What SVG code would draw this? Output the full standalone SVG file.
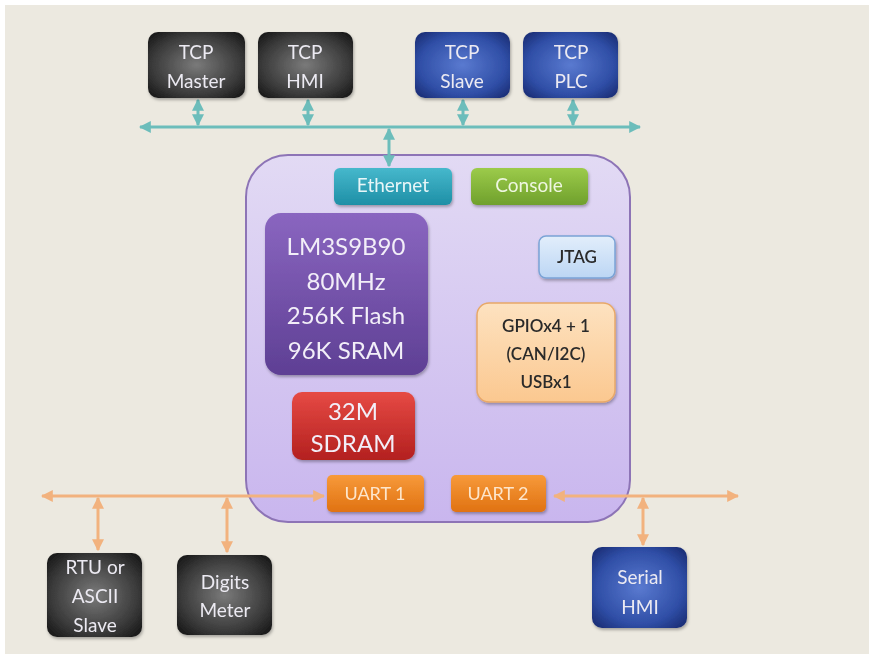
<svg xmlns="http://www.w3.org/2000/svg" width="869" height="654" viewBox="0 0 869 654">
<style>
  text { font-family: Lato, "Open Sans", "Liberation Sans", sans-serif; text-anchor: middle; }
  .wt { fill: #eceaf2; font-size: 19px; }
  .big { fill: #f2eef8; font-size: 24px; }
  .dk { fill: #2a2a2a; font-size: 17px; font-weight: 600; }
  .teal { stroke: #6cbdbb; stroke-width: 3; fill: none; }
  .orng { stroke: #f2b27e; stroke-width: 3; fill: none; }
</style>
<defs>
  <radialGradient id="gDark" cx="50%" cy="50%" r="65%">
    <stop offset="0" stop-color="#7a7a7a"/>
    <stop offset="0.7" stop-color="#3a3a3a"/>
    <stop offset="1" stop-color="#1a1a1a"/>
  </radialGradient>
  <radialGradient id="gBlue" cx="50%" cy="50%" r="65%">
    <stop offset="0" stop-color="#5a7ad0"/>
    <stop offset="0.7" stop-color="#2f4ea6"/>
    <stop offset="1" stop-color="#1c2f78"/>
  </radialGradient>
  <linearGradient id="gBoard" x1="0" y1="0" x2="0" y2="1">
    <stop offset="0" stop-color="#e2daf4"/>
    <stop offset="1" stop-color="#c9b6ee"/>
  </linearGradient>
  <linearGradient id="gPurple" x1="0" y1="0" x2="0" y2="1">
    <stop offset="0" stop-color="#8a66c0"/>
    <stop offset="1" stop-color="#5e3f94"/>
  </linearGradient>
  <linearGradient id="gRed" x1="0" y1="0" x2="0" y2="1">
    <stop offset="0" stop-color="#e64a44"/>
    <stop offset="1" stop-color="#b3201f"/>
  </linearGradient>
  <linearGradient id="gTeal" x1="0" y1="0" x2="0" y2="1">
    <stop offset="0" stop-color="#46b8cc"/>
    <stop offset="1" stop-color="#1e8fa6"/>
  </linearGradient>
  <linearGradient id="gGreen" x1="0" y1="0" x2="0" y2="1">
    <stop offset="0" stop-color="#9ccb4a"/>
    <stop offset="1" stop-color="#6fa02c"/>
  </linearGradient>
  <linearGradient id="gOrange" x1="0" y1="0" x2="0" y2="1">
    <stop offset="0" stop-color="#f79a3a"/>
    <stop offset="1" stop-color="#e07212"/>
  </linearGradient>
  <linearGradient id="gJtag" x1="0" y1="0" x2="0" y2="1">
    <stop offset="0" stop-color="#e2eefb"/>
    <stop offset="1" stop-color="#bcd6f4"/>
  </linearGradient>
  <linearGradient id="gGpio" x1="0" y1="0" x2="0" y2="1">
    <stop offset="0" stop-color="#fde2c0"/>
    <stop offset="1" stop-color="#fbc890"/>
  </linearGradient>
  <filter id="sh" x="-20%" y="-20%" width="140%" height="150%">
    <feDropShadow dx="1" dy="2" stdDeviation="1.5" flood-color="#000" flood-opacity="0.3"/>
  </filter>
  <marker id="aT" viewBox="0 0 10 10" refX="9" refY="5" markerWidth="4" markerHeight="4" orient="auto-start-reverse">
    <path d="M0,0 L10,5 L0,10 Z" fill="#6cbdbb"/>
  </marker>
  <marker id="aO" viewBox="0 0 10 10" refX="9" refY="5" markerWidth="4" markerHeight="4" orient="auto-start-reverse">
    <path d="M0,0 L10,5 L0,10 Z" fill="#f2b27e"/>
  </marker>
</defs>

<rect x="0" y="0" width="869" height="654" fill="#ffffff"/>
<rect x="5" y="5" width="864" height="649" fill="#ece9e0"/>

<g id="board">
  <rect x="246" y="155" width="384" height="367" rx="42" fill="url(#gBoard)" stroke="#8d74b6" stroke-width="2"/>
</g>

<g id="connectors">
  <line class="teal" x1="140" y1="127" x2="640" y2="127" marker-start="url(#aT)" marker-end="url(#aT)"/>
  <line class="teal" x1="198" y1="100" x2="198" y2="125" marker-start="url(#aT)" marker-end="url(#aT)"/>
  <line class="teal" x1="308" y1="100" x2="308" y2="125" marker-start="url(#aT)" marker-end="url(#aT)"/>
  <line class="teal" x1="463" y1="100" x2="463" y2="125" marker-start="url(#aT)" marker-end="url(#aT)"/>
  <line class="teal" x1="573" y1="100" x2="573" y2="125" marker-start="url(#aT)" marker-end="url(#aT)"/>
  <line class="teal" x1="389" y1="129" x2="389" y2="166" marker-start="url(#aT)" marker-end="url(#aT)"/>
  <line class="orng" x1="42" y1="496" x2="324" y2="496" marker-start="url(#aO)" marker-end="url(#aO)"/>
  <line class="orng" x1="554" y1="496" x2="738" y2="496" marker-start="url(#aO)" marker-end="url(#aO)"/>
  <line class="orng" x1="98" y1="498" x2="98" y2="550" marker-start="url(#aO)" marker-end="url(#aO)"/>
  <line class="orng" x1="227" y1="498" x2="227" y2="552" marker-start="url(#aO)" marker-end="url(#aO)"/>
  <line class="orng" x1="643" y1="498" x2="643" y2="545" marker-start="url(#aO)" marker-end="url(#aO)"/>
</g>

<g id="tcp-master" filter="url(#sh)">
  <rect x="148" y="32" width="97" height="66" rx="10" fill="url(#gDark)"/>
  <text class="wt" x="196" y="59">TCP</text>
  <text class="wt" x="196" y="88">Master</text>
</g>
<g id="tcp-hmi" filter="url(#sh)">
  <rect x="258" y="32" width="95" height="66" rx="10" fill="url(#gDark)"/>
  <text class="wt" x="305" y="59">TCP</text>
  <text class="wt" x="305" y="88">HMI</text>
</g>
<g id="tcp-slave" filter="url(#sh)">
  <rect x="415" y="32" width="95" height="66" rx="10" fill="url(#gBlue)"/>
  <text class="wt" x="462" y="59">TCP</text>
  <text class="wt" x="462" y="88">Slave</text>
</g>
<g id="tcp-plc" filter="url(#sh)">
  <rect x="523" y="32" width="95" height="66" rx="10" fill="url(#gBlue)"/>
  <text class="wt" x="571" y="59">TCP</text>
  <text class="wt" x="571" y="88">PLC</text>
</g>

<g id="ethernet" filter="url(#sh)">
  <rect x="334" y="168" width="118" height="37" rx="6" fill="url(#gTeal)"/>
  <text x="393" y="192" style="font-size:19px; fill:#e8f6f8">Ethernet</text>
</g>
<g id="console" filter="url(#sh)">
  <rect x="471" y="168" width="117" height="37" rx="6" fill="url(#gGreen)"/>
  <text x="529" y="192" style="font-size:19px; fill:#eef6e0">Console</text>
</g>

<g id="mcu" filter="url(#sh)">
  <rect x="265" y="213" width="163" height="162" rx="16" fill="url(#gPurple)"/>
  <text class="big" x="346" y="255">LM3S9B90</text>
  <text class="big" x="346" y="290">80MHz</text>
  <text class="big" x="346" y="324">256K Flash</text>
  <text class="big" x="346" y="359">96K SRAM</text>
</g>

<g id="jtag" filter="url(#sh)">
  <rect x="539" y="236" width="76" height="42" rx="7" fill="url(#gJtag)" stroke="#7aa3d6" stroke-width="1.5"/>
  <text class="dk" x="577" y="263">JTAG</text>
</g>

<g id="gpio" filter="url(#sh)">
  <rect x="477" y="303" width="138" height="99" rx="12" fill="url(#gGpio)" stroke="#e8a868" stroke-width="1.5"/>
  <text class="dk" x="546" y="332">GPIOx4 + 1</text>
  <text class="dk" x="546" y="360">(CAN/I2C)</text>
  <text class="dk" x="546" y="388">USBx1</text>
</g>

<g id="sdram" filter="url(#sh)">
  <rect x="292" y="392" width="123" height="68" rx="10" fill="url(#gRed)"/>
  <text class="big" x="353" y="420">32M</text>
  <text class="big" x="353" y="452">SDRAM</text>
</g>

<g id="uart1" filter="url(#sh)">
  <rect x="327" y="475" width="97" height="37" rx="5" fill="url(#gOrange)"/>
  <text x="375" y="500" style="font-size:18px; fill:#fde6cc">UART 1</text>
</g>
<g id="uart2" filter="url(#sh)">
  <rect x="451" y="475" width="95" height="37" rx="5" fill="url(#gOrange)"/>
  <text x="498" y="500" style="font-size:18px; fill:#fde6cc">UART 2</text>
</g>

<g id="rtu" filter="url(#sh)">
  <rect x="47" y="553" width="95" height="84" rx="10" fill="url(#gDark)"/>
  <text class="wt" x="95" y="574">RTU or</text>
  <text class="wt" x="95" y="603">ASCII</text>
  <text class="wt" x="95" y="632">Slave</text>
</g>
<g id="digits" filter="url(#sh)">
  <rect x="177" y="555" width="95" height="80" rx="10" fill="url(#gDark)"/>
  <text class="wt" x="225" y="589">Digits</text>
  <text class="wt" x="225" y="617">Meter</text>
</g>
<g id="serial-hmi" filter="url(#sh)">
  <rect x="592" y="547" width="95" height="81" rx="10" fill="url(#gBlue)"/>
  <text class="wt" x="640" y="584">Serial</text>
  <text class="wt" x="640" y="614">HMI</text>
</g>
</svg>
